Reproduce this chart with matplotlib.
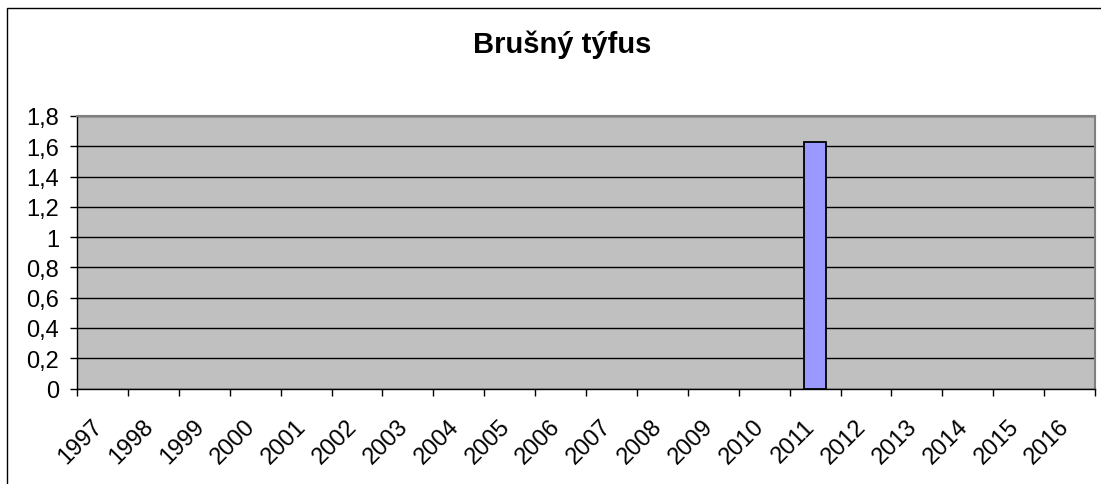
import matplotlib
matplotlib.use("Agg")
import matplotlib.pyplot as plt
import matplotlib.transforms as mtransforms
from matplotlib.patches import Rectangle

# data
years = [str(y) for y in range(1997, 2017)]
values = [0, 0, 0, 0, 0, 0, 0, 0, 0, 0, 0, 0, 0, 0, 1.63, 0, 0, 0, 0, 0]
yticks = [0, 0.2, 0.4, 0.6, 0.8, 1.0, 1.2, 1.4, 1.6, 1.8]
ytick_labels = ["0", "0,2", "0,4", "0,6", "0,8", "1", "1,2", "1,4", "1,6", "1,8"]
title = "Brušný týfus"

plt.rcParams['font.family'] = ['Liberation Sans', 'DejaVu Sans']

W, H = 1101, 485
fig = plt.figure(figsize=(W / 100, H / 100), dpi=100)

# plot area in pixels
left, right, top, bottom = 77, 1095, 117, 389.5
ax = fig.add_axes([left / W, (H - bottom) / H, (right - left) / W, (bottom - top) / H])
ax.set_facecolor("#C0C0C0")

x = list(range(len(years)))
# no outline for empty years
lws = [1.3 if v > 0 else 0 for v in values]
ax.bar(x, values, width=0.44, color="#9999FF", edgecolor="black", linewidth=lws, zorder=3)

ax.set_xlim(-0.5, len(years) - 0.5)
ax.set_ylim(0, 1.8)
ax.set_yticks(yticks)
ax.set_yticklabels(ytick_labels, fontsize=17)
ax.yaxis.grid(True, color="black", linewidth=1, zorder=1)
ax.set_axisbelow(True)

# ticks at category boundaries, labels at centres
ax.set_xticks([i - 0.5 for i in range(len(years) + 1)])
ax.set_xticklabels([])
ax.set_xticks(x, minor=True)
ax.set_xticklabels(years, minor=True, fontsize=17, rotation=45,
                   ha="right", va="top", rotation_mode="anchor")
ax.tick_params(axis="x", which="minor", length=0, pad=19)
ax.tick_params(axis="x", which="major", length=5, width=1, direction="out")
ax.tick_params(axis="y", length=5, width=1, direction="out", pad=8)

shift = mtransforms.ScaledTranslation(-0.11, 0, fig.dpi_scale_trans)
for lab in ax.get_xticklabels(minor=True):
    lab.set_transform(lab.get_transform() + shift)

for s in ["left", "bottom"]:
    ax.spines[s].set_color("black")
    ax.spines[s].set_linewidth(1)
for s in ["top", "right"]:
    ax.spines[s].set_color("#808080")
    ax.spines[s].set_linewidth(1.5)

fig.text(562 / W, 1 - 45 / H, title, fontsize=21, fontweight="bold",
         ha="center", va="center")

# outer chart border
fig.patches.append(Rectangle((7 / W, -0.5), 2, 1.5 - 9 / H, transform=fig.transFigure,
                             fill=False, edgecolor="black", linewidth=1))

fig.savefig("out.png", dpi=100)
